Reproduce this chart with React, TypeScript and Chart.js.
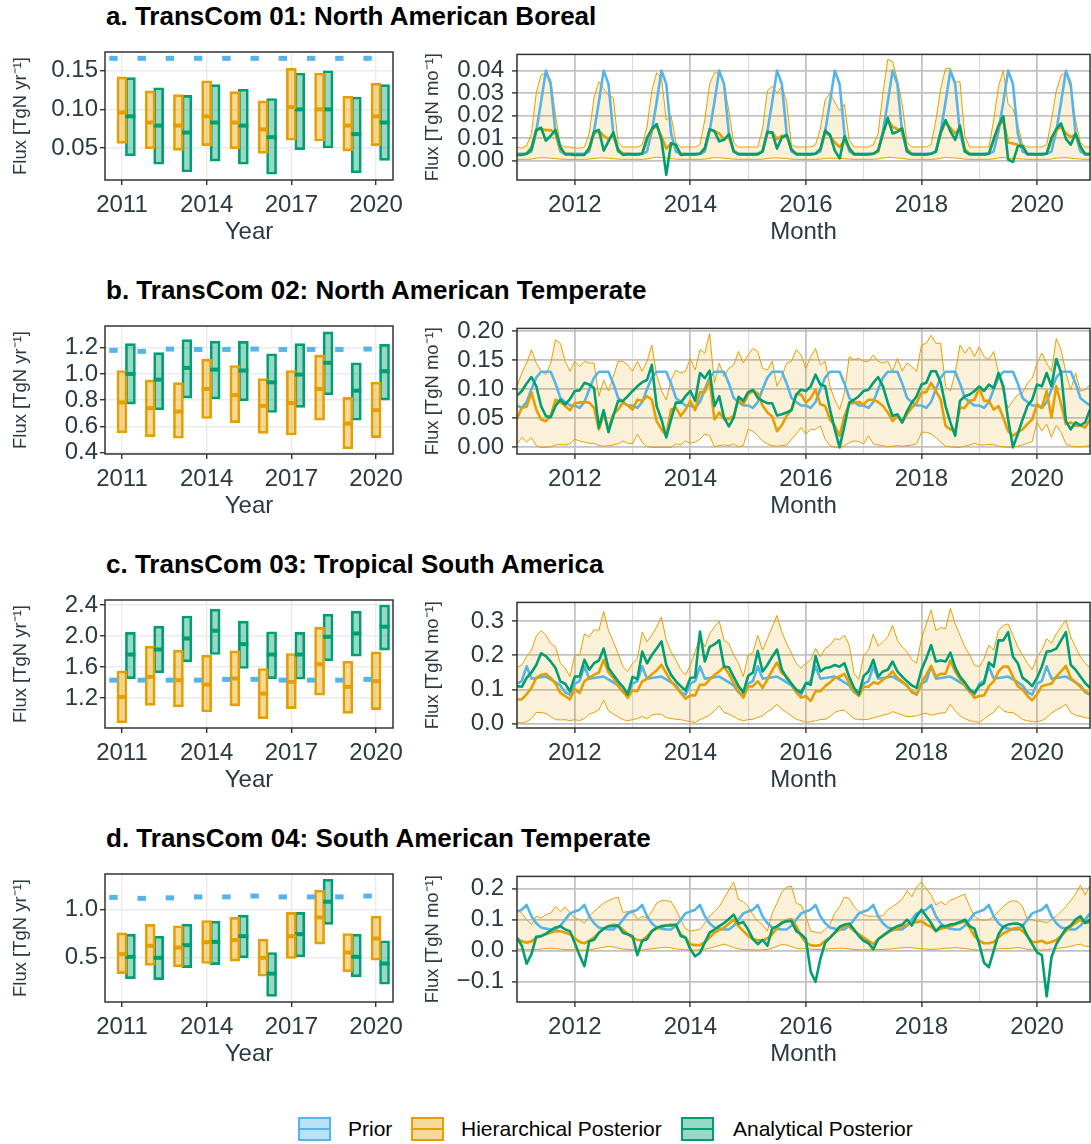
import React, { useEffect, useRef } from "react";
import { Chart, registerables } from "chart.js";

Chart.register(...registerables);

const FONT = "'Liberation Sans', Arial, Helvetica, sans-serif";
const TEXT = "#2B3A42";
const AXIS = "#333333";
const PRIOR = "#56B4E9";
const HIER = "#E69F00";
const ANAL = "#009E73";
const PRIOR_FILL = "rgba(86,180,233,0.4)";
const HIER_FILL = "rgba(230,159,0,0.4)";
const ANAL_FILL = "rgba(0,158,115,0.4)";
const BAND = "rgba(230,159,0,0.15)";

Chart.defaults.font.family = FONT;
Chart.defaults.color = TEXT;

// ---- categories and tick labels ----
const years = [2011, 2012, 2013, 2014, 2015, 2016, 2017, 2018, 2019, 2020];
const monthOffsets = [0, 1, 2, 3, 4, 5, 6, 7, 8, 9, 10, 11];
const annualXTicks = [2011, 2014, 2017, 2020];
const monthlyXTicks = [2011, 2012, 2013, 2014, 2015, 2016, 2017, 2018, 2019, 2020];
const panelTitles = [
  "a. TransCom 01: North American Boreal",
  "b. TransCom 02: North American Temperate",
  "c. TransCom 03: Tropical South America",
  "d. TransCom 04: South American Temperate",
];
const legendLabels = ["Prior", "Hierarchical Posterior", "Analytical Posterior"];

const yTicksAnnualA = [0.05, 0.1, 0.15];
const yTicksAnnualB = [0.4, 0.6, 0.8, 1.0, 1.2];
const yTicksAnnualC = [1.2, 1.6, 2.0, 2.4];
const yTicksAnnualD = [0.5, 1.0];
const yTicksMonthlyA = [0, 0.01, 0.02, 0.03, 0.04];
const yTicksMonthlyB = [0, 0.05, 0.1, 0.15, 0.2];
const yTicksMonthlyC = [0, 0.1, 0.2, 0.3];
const yTicksMonthlyD = [-0.1, 0, 0.1, 0.2];

// ---- annual values (TgN / yr) ----
const annualPriorA = [0.166, 0.166, 0.166, 0.166, 0.166, 0.166, 0.166, 0.166, 0.166, 0.166];
const annualHierMeanA = [0.096, 0.083, 0.079, 0.091, 0.083, 0.074, 0.103, 0.1, 0.079, 0.091];
const annualHierLoA = [0.056, 0.049, 0.047, 0.053, 0.049, 0.043, 0.06, 0.059, 0.046, 0.053];
const annualHierHiA = [0.142, 0.124, 0.119, 0.137, 0.123, 0.111, 0.153, 0.147, 0.117, 0.134];
const annualAnalMeanA = [0.091, 0.079, 0.07, 0.083, 0.079, 0.064, 0.1, 0.1, 0.068, 0.083];
const annualAnalLoA = [0.04, 0.029, 0.019, 0.033, 0.029, 0.016, 0.048, 0.05, 0.018, 0.034];
const annualAnalHiA = [0.141, 0.128, 0.118, 0.132, 0.126, 0.114, 0.147, 0.15, 0.116, 0.132];

const annualPriorB = [1.18, 1.172, 1.19, 1.187, 1.187, 1.19, 1.187, 1.187, 1.187, 1.19];
const annualHierMeanB = [0.782, 0.738, 0.713, 0.885, 0.838, 0.756, 0.777, 0.885, 0.621, 0.723];
const annualHierLoB = [0.549, 0.521, 0.508, 0.659, 0.628, 0.546, 0.533, 0.646, 0.428, 0.513];
const annualHierHiB = [1.026, 0.954, 0.933, 1.113, 1.064, 0.964, 1.026, 1.144, 0.821, 0.938];
const annualAnalMeanB = [1.0, 0.956, 1.046, 1.033, 1.026, 0.936, 0.995, 1.085, 0.872, 1.021];
const annualAnalLoB = [0.769, 0.726, 0.815, 0.808, 0.795, 0.705, 0.744, 0.841, 0.646, 0.8];
const annualAnalHiB = [1.231, 1.162, 1.262, 1.251, 1.249, 1.154, 1.231, 1.321, 1.085, 1.226];

const annualPriorC = [1.43, 1.43, 1.43, 1.43, 1.44, 1.44, 1.43, 1.43, 1.43, 1.44];
const annualHierMeanC = [1.213, 1.472, 1.429, 1.373, 1.451, 1.256, 1.407, 1.636, 1.343, 1.416];
const annualHierLoC = [0.88, 1.105, 1.084, 1.019, 1.097, 0.933, 1.062, 1.235, 1.0, 1.049];
const annualHierHiC = [1.55, 1.869, 1.817, 1.753, 1.809, 1.58, 1.774, 2.111, 1.675, 1.796];
const annualAnalMeanC = [1.761, 1.826, 1.968, 2.068, 1.895, 1.761, 1.761, 1.99, 2.033, 2.12];
const annualAnalLoC = [1.45, 1.524, 1.666, 1.761, 1.58, 1.45, 1.442, 1.679, 1.74, 1.817];
const annualAnalHiC = [2.046, 2.128, 2.258, 2.348, 2.193, 2.055, 2.046, 2.283, 2.322, 2.4];

const annualPriorD = [1.125, 1.115, 1.12, 1.13, 1.13, 1.139, 1.13, 1.13, 1.13, 1.139];
const annualHierMeanD = [0.535, 0.622, 0.604, 0.66, 0.681, 0.497, 0.722, 0.917, 0.552, 0.698];
const annualHierLoD = [0.333, 0.417, 0.403, 0.438, 0.462, 0.306, 0.49, 0.639, 0.351, 0.472];
const annualHierHiD = [0.757, 0.844, 0.83, 0.885, 0.917, 0.691, 0.969, 1.201, 0.75, 0.931];
const annualAnalMeanD = [0.507, 0.497, 0.628, 0.663, 0.722, 0.333, 0.743, 1.08, 0.507, 0.438];
const annualAnalLoD = [0.281, 0.271, 0.396, 0.427, 0.497, 0.097, 0.507, 0.844, 0.299, 0.222];
const annualAnalHiD = [0.743, 0.722, 0.847, 0.878, 0.941, 0.552, 0.969, 1.313, 0.743, 0.674];

// ---- monthly values (TgN / mo), Jan 2011 .. Dec 2020 ----
const monthlyPriorA = [
  0.003, 0.003, 0.003, 0.004, 0.013, 0.026, 0.04, 0.034, 0.012, 0.004, 0.003, 0.003,
  0.003, 0.003, 0.003, 0.004, 0.013, 0.026, 0.04, 0.034, 0.012, 0.004, 0.003, 0.003,
  0.003, 0.003, 0.003, 0.004, 0.013, 0.026, 0.04, 0.034, 0.012, 0.004, 0.003, 0.003,
  0.003, 0.003, 0.003, 0.004, 0.013, 0.026, 0.04, 0.034, 0.012, 0.004, 0.003, 0.003,
  0.003, 0.003, 0.003, 0.004, 0.013, 0.026, 0.04, 0.034, 0.012, 0.004, 0.003, 0.003,
  0.003, 0.003, 0.003, 0.004, 0.013, 0.026, 0.04, 0.034, 0.012, 0.004, 0.003, 0.003,
  0.003, 0.003, 0.003, 0.004, 0.013, 0.026, 0.04, 0.034, 0.012, 0.004, 0.003, 0.003,
  0.003, 0.003, 0.003, 0.004, 0.013, 0.026, 0.04, 0.034, 0.012, 0.004, 0.003, 0.003,
  0.003, 0.003, 0.003, 0.004, 0.013, 0.026, 0.04, 0.034, 0.012, 0.004, 0.003, 0.003,
  0.003, 0.003, 0.003, 0.004, 0.013, 0.026, 0.04, 0.034, 0.012, 0.004, 0.003, 0.003,
];
const monthlyHierA = [
  0.0027, 0.0027, 0.003, 0.006, 0.0135, 0.014, 0.0135, 0.0135, 0.012, 0.005, 0.003, 0.003,
  0.0027, 0.0027, 0.0028, 0.005, 0.012, 0.013, 0.011, 0.0095, 0.011, 0.005, 0.003, 0.003,
  0.0027, 0.0027, 0.003, 0.009, 0.0135, 0.0155, 0.0107, 0.0053, 0.0075, 0.0065, 0.003, 0.0028,
  0.0027, 0.0027, 0.003, 0.005, 0.0135, 0.013, 0.012, 0.0095, 0.0105, 0.004, 0.003, 0.0028,
  0.0027, 0.0027, 0.003, 0.004, 0.012, 0.0125, 0.0095, 0.011, 0.011, 0.005, 0.003, 0.0028,
  0.0027, 0.0027, 0.003, 0.005, 0.0125, 0.011, 0.008, 0.006, 0.009, 0.005, 0.003, 0.0028,
  0.0027, 0.0027, 0.003, 0.004, 0.012, 0.018, 0.015, 0.014, 0.013, 0.005, 0.003, 0.0028,
  0.0027, 0.0027, 0.003, 0.004, 0.012, 0.017, 0.0145, 0.012, 0.0145, 0.005, 0.003, 0.0028,
  0.0027, 0.0027, 0.003, 0.009, 0.015, 0.018, 0.008, 0.0075, 0.007, 0.006, 0.003, 0.0028,
  0.0027, 0.0027, 0.003, 0.009, 0.0135, 0.015, 0.012, 0.0105, 0.0115, 0.006, 0.003, 0.003,
];
const monthlyAnalA = [
  0.0025, 0.0025, 0.003, 0.005, 0.0136, 0.0146, 0.0088, 0.011, 0.0136, 0.006, 0.0027, 0.0027,
  0.0025, 0.0025, 0.0025, 0.0055, 0.0128, 0.0136, 0.0044, 0.0085, 0.0125, 0.0045, 0.0025, 0.0027,
  0.0027, 0.0027, 0.003, 0.01, 0.014, 0.0162, 0.0092, -0.0064, 0.0077, 0.007, 0.0025, 0.0027,
  0.0027, 0.0027, 0.003, 0.0055, 0.0139, 0.0131, 0.0085, 0.0092, 0.0117, 0.004, 0.0027, 0.0027,
  0.0027, 0.0027, 0.0027, 0.004, 0.0128, 0.0124, 0.0053, 0.0102, 0.0114, 0.0048, 0.0027, 0.0027,
  0.0027, 0.0027, 0.003, 0.005, 0.0133, 0.0114, 0.0044, 0.0009, 0.0107, 0.0055, 0.0027, 0.0027,
  0.0027, 0.0027, 0.003, 0.0045, 0.012, 0.019, 0.012, 0.0128, 0.0143, 0.004, 0.0027, 0.0027,
  0.0027, 0.0027, 0.003, 0.004, 0.0126, 0.018, 0.013, 0.0092, 0.0155, 0.004, 0.0027, 0.0027,
  0.0027, 0.0027, 0.003, 0.0095, 0.0155, 0.0197, 0.0004, -0.0006, 0.0063, 0.0065, 0.0027, 0.0027,
  0.0027, 0.0027, 0.003, 0.01, 0.014, 0.0165, 0.0096, 0.007, 0.012, 0.0063, 0.0027, 0.0027,
];
const monthlyHiA = [
  0.006, 0.0055, 0.0065, 0.012, 0.03, 0.038, 0.039, 0.036, 0.02, 0.007, 0.006, 0.006,
  0.0055, 0.0055, 0.006, 0.012, 0.028, 0.035, 0.032, 0.029, 0.028, 0.008, 0.006, 0.006,
  0.006, 0.006, 0.007, 0.015, 0.031, 0.039, 0.037, 0.018, 0.02, 0.008, 0.006, 0.006,
  0.006, 0.006, 0.007, 0.018, 0.034, 0.039, 0.039, 0.034, 0.022, 0.008, 0.006, 0.006,
  0.006, 0.006, 0.006, 0.014, 0.031, 0.033, 0.03, 0.033, 0.026, 0.007, 0.006, 0.006,
  0.006, 0.006, 0.007, 0.014, 0.027, 0.03, 0.026, 0.022, 0.025, 0.009, 0.006, 0.006,
  0.006, 0.006, 0.007, 0.012, 0.03, 0.045, 0.044, 0.036, 0.025, 0.008, 0.006, 0.006,
  0.006, 0.006, 0.007, 0.018, 0.032, 0.041, 0.041, 0.035, 0.035, 0.011, 0.006, 0.006,
  0.006, 0.006, 0.006, 0.018, 0.033, 0.04, 0.025, 0.023, 0.016, 0.007, 0.006, 0.006,
  0.006, 0.006, 0.007, 0.018, 0.031, 0.038, 0.039, 0.032, 0.018, 0.008, 0.006, 0.006,
];
const monthlyLoA = [
  0.0005, 0.0005, 0.0005, 0.0006, 0.001, 0.0012, 0.0012, 0.001, 0.0008, 0.0006, 0.0005, 0.0005,
  0.0005, 0.0005, 0.0005, 0.0006, 0.0009, 0.0011, 0.0011, 0.001, 0.0008, 0.0006, 0.0005, 0.0005,
  0.0005, 0.0005, 0.0005, 0.0007, 0.0011, 0.0014, 0.0013, 0.001, 0.0008, 0.0006, 0.0005, 0.0005,
  0.0005, 0.0005, 0.0005, 0.0006, 0.001, 0.0012, 0.0012, 0.001, 0.0008, 0.0006, 0.0005, 0.0005,
  0.0005, 0.0005, 0.0005, 0.0006, 0.0009, 0.0011, 0.0011, 0.001, 0.0008, 0.0006, 0.0005, 0.0005,
  0.0005, 0.0005, 0.0005, 0.0006, 0.0009, 0.001, 0.001, 0.0009, 0.0008, 0.0006, 0.0005, 0.0005,
  0.0005, 0.0005, 0.0005, 0.0007, 0.0011, 0.0014, 0.0013, 0.0011, 0.0009, 0.0006, 0.0005, 0.0005,
  0.0005, 0.0005, 0.0005, 0.0006, 0.001, 0.0013, 0.0012, 0.0011, 0.0009, 0.0006, 0.0005, 0.0005,
  0.0005, 0.0005, 0.0005, 0.0007, 0.0011, 0.0014, 0.001, 0.0009, 0.0008, 0.0006, 0.0005, 0.0005,
  0.0005, 0.0005, 0.0005, 0.0006, 0.001, 0.0012, 0.0012, 0.001, 0.0008, 0.0006, 0.0005, 0.0005,
];

const monthlyPriorB = [
  0.072, 0.068, 0.078, 0.1, 0.12, 0.13, 0.13, 0.13, 0.11, 0.085, 0.078, 0.072,
  0.072, 0.068, 0.078, 0.1, 0.12, 0.13, 0.13, 0.13, 0.11, 0.085, 0.078, 0.072,
  0.072, 0.068, 0.078, 0.1, 0.12, 0.13, 0.13, 0.13, 0.11, 0.085, 0.078, 0.072,
  0.072, 0.068, 0.078, 0.1, 0.12, 0.13, 0.13, 0.13, 0.11, 0.085, 0.078, 0.072,
  0.072, 0.068, 0.078, 0.1, 0.12, 0.13, 0.13, 0.13, 0.11, 0.085, 0.078, 0.072,
  0.072, 0.068, 0.078, 0.1, 0.12, 0.13, 0.13, 0.13, 0.11, 0.085, 0.078, 0.072,
  0.072, 0.068, 0.078, 0.1, 0.12, 0.13, 0.13, 0.13, 0.11, 0.085, 0.078, 0.072,
  0.072, 0.068, 0.078, 0.1, 0.12, 0.13, 0.13, 0.13, 0.11, 0.085, 0.078, 0.072,
  0.072, 0.068, 0.078, 0.1, 0.12, 0.13, 0.13, 0.13, 0.11, 0.085, 0.078, 0.072,
  0.072, 0.068, 0.078, 0.1, 0.12, 0.13, 0.13, 0.13, 0.11, 0.085, 0.078, 0.072,
];
const monthlyHierB = [
  0.049, 0.068, 0.07, 0.094, 0.065, 0.048, 0.045, 0.054, 0.082, 0.078, 0.071, 0.064,
  0.076, 0.077, 0.078, 0.077, 0.068, 0.031, 0.057, 0.031, 0.057, 0.065, 0.077, 0.072,
  0.065, 0.082, 0.08, 0.088, 0.082, 0.045, 0.031, 0.02, 0.065, 0.068, 0.054, 0.065,
  0.08, 0.064, 0.095, 0.095, 0.116, 0.048, 0.06, 0.049, 0.049, 0.054, 0.082, 0.074,
  0.091, 0.097, 0.093, 0.072, 0.06, 0.053, 0.028, 0.038, 0.054, 0.065, 0.091, 0.091,
  0.077, 0.085, 0.099, 0.074, 0.071, 0.048, 0.037, 0.02, 0.054, 0.074, 0.077, 0.078,
  0.074, 0.082, 0.082, 0.078, 0.071, 0.06, 0.045, 0.054, 0.043, 0.057, 0.068, 0.077,
  0.094, 0.095, 0.111, 0.097, 0.082, 0.037, 0.031, 0.028, 0.068, 0.068, 0.08, 0.082,
  0.102, 0.08, 0.08, 0.065, 0.071, 0.051, 0.028, 0.02, 0.026, 0.031, 0.04, 0.048,
  0.074, 0.068, 0.097, 0.051, 0.105, 0.074, 0.04, 0.043, 0.037, 0.038, 0.034, 0.048,
];
const monthlyAnalB = [
  0.089, 0.097, 0.11, 0.121, 0.105, 0.071, 0.054, 0.052, 0.071, 0.082, 0.074, 0.083,
  0.097, 0.098, 0.111, 0.108, 0.102, 0.034, 0.064, 0.026, 0.054, 0.08, 0.08, 0.088,
  0.097, 0.105, 0.112, 0.116, 0.142, 0.071, 0.048, 0.017, 0.048, 0.077, 0.077, 0.088,
  0.097, 0.08, 0.128, 0.119, 0.132, 0.071, 0.088, 0.051, 0.036, 0.051, 0.087, 0.08,
  0.095, 0.099, 0.085, 0.08, 0.076, 0.076, 0.055, 0.057, 0.06, 0.064, 0.091, 0.099,
  0.097, 0.105, 0.125, 0.108, 0.105, 0.065, 0.031, 0.0, 0.037, 0.077, 0.082, 0.088,
  0.097, 0.099, 0.111, 0.121, 0.105, 0.077, 0.054, 0.057, 0.043, 0.062, 0.077, 0.088,
  0.108, 0.111, 0.131, 0.131, 0.111, 0.071, 0.043, 0.02, 0.08, 0.088, 0.091, 0.097,
  0.105, 0.097, 0.108, 0.102, 0.128, 0.105, 0.048, 0.0, 0.023, 0.048, 0.071, 0.082,
  0.108, 0.105, 0.128, 0.105, 0.152, 0.128, 0.045, 0.031, 0.043, 0.038, 0.043, 0.065,
];
const monthlyHiB = [
  0.105, 0.128, 0.145, 0.168, 0.145, 0.131, 0.125, 0.145, 0.185, 0.179, 0.148, 0.131,
  0.148, 0.139, 0.148, 0.145, 0.145, 0.088, 0.116, 0.097, 0.122, 0.148, 0.148, 0.142,
  0.131, 0.148, 0.131, 0.148, 0.176, 0.125, 0.097, 0.082, 0.116, 0.133, 0.128, 0.131,
  0.153, 0.133, 0.168, 0.162, 0.196, 0.111, 0.145, 0.122, 0.136, 0.142, 0.165, 0.145,
  0.159, 0.17, 0.165, 0.136, 0.133, 0.148, 0.105, 0.122, 0.145, 0.148, 0.168, 0.159,
  0.136, 0.156, 0.17, 0.142, 0.148, 0.105, 0.082, 0.065, 0.094, 0.156, 0.151, 0.153,
  0.148, 0.148, 0.159, 0.148, 0.145, 0.148, 0.131, 0.153, 0.131, 0.145, 0.139, 0.131,
  0.176, 0.179, 0.193, 0.179, 0.179, 0.105, 0.097, 0.128, 0.176, 0.162, 0.173, 0.156,
  0.173, 0.156, 0.151, 0.165, 0.128, 0.094, 0.068, 0.08, 0.091, 0.094, 0.111, 0.119,
  0.145, 0.162, 0.145, 0.131, 0.187, 0.168, 0.128, 0.099, 0.128, 0.097, 0.099, 0.108,
];
const monthlyLoB = [
  0.006, 0.017, 0.009, 0.017, 0.003, 0.0, 0.0, 0.001, 0.004, 0.005, 0.004, 0.006,
  0.014, 0.011, 0.009, 0.007, 0.007, 0.003, 0.002, 0.003, 0.004, 0.006, 0.011, 0.007,
  0.006, 0.023, 0.009, 0.001, 0.0, 0.0, 0.0, 0.0, 0.0, 0.006, 0.004, 0.011,
  0.007, 0.009, 0.014, 0.023, 0.02, 0.001, 0.003, 0.004, 0.003, 0.006, 0.001, 0.003,
  0.031, 0.028, 0.02, 0.011, 0.006, 0.003, 0.002, 0.003, 0.004, 0.014, 0.023, 0.034,
  0.023, 0.031, 0.031, 0.037, 0.014, 0.003, 0.0, 0.0, 0.003, 0.008, 0.011, 0.01,
  0.006, 0.02, 0.006, 0.004, 0.003, 0.001, 0.002, 0.003, 0.002, 0.003, 0.004, 0.006,
  0.026, 0.026, 0.023, 0.017, 0.009, 0.002, 0.001, 0.0, 0.0, 0.002, 0.004, 0.007,
  0.004, 0.004, 0.005, 0.005, 0.002, 0.001, 0.0, 0.001, 0.002, 0.004, 0.007, 0.01,
  0.043, 0.028, 0.04, 0.017, 0.038, 0.026, 0.006, 0.002, 0.001, 0.001, 0.002, 0.003,
];

const monthlyPriorC = [
  0.117, 0.125, 0.168, 0.132, 0.134, 0.136, 0.138, 0.13, 0.121, 0.112, 0.092, 0.085,
  0.117, 0.125, 0.168, 0.132, 0.134, 0.136, 0.138, 0.13, 0.121, 0.112, 0.092, 0.085,
  0.117, 0.125, 0.168, 0.132, 0.134, 0.136, 0.138, 0.13, 0.121, 0.112, 0.092, 0.085,
  0.117, 0.125, 0.168, 0.132, 0.134, 0.136, 0.138, 0.13, 0.121, 0.112, 0.092, 0.085,
  0.117, 0.125, 0.168, 0.132, 0.134, 0.136, 0.138, 0.13, 0.121, 0.112, 0.092, 0.085,
  0.117, 0.125, 0.168, 0.132, 0.134, 0.136, 0.138, 0.13, 0.121, 0.112, 0.092, 0.085,
  0.117, 0.125, 0.168, 0.132, 0.134, 0.136, 0.138, 0.13, 0.121, 0.112, 0.092, 0.085,
  0.117, 0.125, 0.168, 0.132, 0.134, 0.136, 0.138, 0.13, 0.121, 0.112, 0.092, 0.085,
  0.117, 0.125, 0.168, 0.132, 0.134, 0.136, 0.138, 0.13, 0.121, 0.112, 0.092, 0.085,
  0.117, 0.125, 0.168, 0.132, 0.134, 0.136, 0.138, 0.13, 0.121, 0.112, 0.092, 0.085,
];
const monthlyHierC = [
  0.071, 0.071, 0.086, 0.105, 0.134, 0.143, 0.146, 0.134, 0.117, 0.09, 0.081, 0.071,
  0.102, 0.09, 0.124, 0.134, 0.143, 0.15, 0.187, 0.15, 0.134, 0.11, 0.095, 0.076,
  0.098, 0.095, 0.124, 0.131, 0.145, 0.156, 0.172, 0.148, 0.124, 0.108, 0.09, 0.073,
  0.083, 0.083, 0.114, 0.114, 0.129, 0.143, 0.153, 0.167, 0.146, 0.119, 0.095, 0.076,
  0.108, 0.11, 0.124, 0.105, 0.129, 0.156, 0.179, 0.148, 0.138, 0.117, 0.092, 0.076,
  0.081, 0.066, 0.095, 0.095, 0.11, 0.121, 0.134, 0.138, 0.146, 0.119, 0.095, 0.081,
  0.108, 0.108, 0.121, 0.117, 0.129, 0.138, 0.153, 0.134, 0.124, 0.11, 0.095, 0.086,
  0.119, 0.143, 0.169, 0.138, 0.146, 0.146, 0.185, 0.153, 0.131, 0.112, 0.095, 0.076,
  0.081, 0.083, 0.11, 0.124, 0.153, 0.167, 0.167, 0.138, 0.11, 0.1, 0.081, 0.069,
  0.086, 0.11, 0.114, 0.117, 0.138, 0.153, 0.169, 0.134, 0.121, 0.108, 0.095, 0.086,
];
const monthlyAnalC = [
  0.11, 0.108, 0.134, 0.15, 0.172, 0.206, 0.198, 0.182, 0.163, 0.124, 0.117, 0.095,
  0.138, 0.138, 0.187, 0.158, 0.177, 0.185, 0.22, 0.163, 0.143, 0.124, 0.108, 0.086,
  0.137, 0.131, 0.211, 0.177, 0.201, 0.22, 0.241, 0.172, 0.143, 0.124, 0.11, 0.097,
  0.134, 0.136, 0.27, 0.182, 0.225, 0.232, 0.244, 0.167, 0.165, 0.137, 0.11, 0.092,
  0.14, 0.15, 0.213, 0.153, 0.172, 0.196, 0.217, 0.158, 0.134, 0.117, 0.1, 0.092,
  0.119, 0.114, 0.198, 0.153, 0.163, 0.165, 0.172, 0.167, 0.177, 0.137, 0.105, 0.086,
  0.14, 0.153, 0.187, 0.138, 0.153, 0.158, 0.182, 0.153, 0.138, 0.124, 0.112, 0.105,
  0.158, 0.191, 0.23, 0.182, 0.185, 0.182, 0.208, 0.165, 0.138, 0.121, 0.1, 0.09,
  0.11, 0.119, 0.179, 0.167, 0.244, 0.244, 0.268, 0.196, 0.177, 0.134, 0.124, 0.11,
  0.134, 0.167, 0.211, 0.213, 0.22, 0.244, 0.268, 0.172, 0.158, 0.138, 0.119, 0.105,
];
const monthlyHiC = [
  0.165, 0.172, 0.196, 0.215, 0.256, 0.273, 0.259, 0.235, 0.225, 0.177, 0.163, 0.138,
  0.201, 0.201, 0.263, 0.254, 0.275, 0.273, 0.329, 0.273, 0.24, 0.206, 0.167, 0.153,
  0.177, 0.191, 0.268, 0.24, 0.259, 0.283, 0.312, 0.244, 0.211, 0.187, 0.158, 0.143,
  0.172, 0.211, 0.254, 0.225, 0.263, 0.283, 0.3, 0.244, 0.235, 0.201, 0.177, 0.138,
  0.201, 0.208, 0.259, 0.215, 0.249, 0.283, 0.317, 0.268, 0.235, 0.206, 0.177, 0.163,
  0.177, 0.187, 0.22, 0.196, 0.22, 0.23, 0.249, 0.246, 0.259, 0.23, 0.148, 0.129,
  0.201, 0.215, 0.262, 0.227, 0.24, 0.254, 0.288, 0.244, 0.225, 0.211, 0.187, 0.177,
  0.249, 0.292, 0.333, 0.273, 0.281, 0.278, 0.338, 0.292, 0.259, 0.225, 0.201, 0.172,
  0.167, 0.191, 0.23, 0.215, 0.273, 0.288, 0.292, 0.259, 0.225, 0.201, 0.177, 0.158,
  0.196, 0.215, 0.249, 0.235, 0.263, 0.283, 0.304, 0.254, 0.225, 0.196, 0.177, 0.163,
];
const monthlyLoC = [
  0.004, 0.002, 0.006, 0.015, 0.033, 0.033, 0.03, 0.021, 0.012, 0.011, 0.012, 0.009,
  0.012, 0.009, 0.015, 0.028, 0.033, 0.04, 0.069, 0.038, 0.028, 0.021, 0.012, 0.009,
  0.012, 0.015, 0.021, 0.015, 0.025, 0.028, 0.028, 0.018, 0.015, 0.013, 0.012, 0.009,
  0.006, 0.004, 0.012, 0.018, 0.025, 0.038, 0.052, 0.033, 0.028, 0.021, 0.013, 0.009,
  0.012, 0.013, 0.018, 0.023, 0.035, 0.044, 0.057, 0.042, 0.033, 0.023, 0.013, 0.009,
  0.004, 0.006, 0.009, 0.012, 0.013, 0.021, 0.033, 0.038, 0.04, 0.028, 0.015, 0.012,
  0.012, 0.013, 0.017, 0.021, 0.025, 0.028, 0.035, 0.031, 0.025, 0.021, 0.021, 0.023,
  0.028, 0.031, 0.025, 0.028, 0.031, 0.033, 0.057, 0.038, 0.023, 0.015, 0.009, 0.006,
  0.004, 0.013, 0.025, 0.033, 0.052, 0.038, 0.033, 0.033, 0.023, 0.012, 0.009, 0.006,
  0.006, 0.009, 0.018, 0.031, 0.04, 0.047, 0.057, 0.033, 0.025, 0.021, 0.018, 0.015,
];

const monthlyPriorD = [
  0.126, 0.132, 0.147, 0.111, 0.088, 0.075, 0.071, 0.068, 0.068, 0.08, 0.1, 0.12,
  0.126, 0.132, 0.147, 0.111, 0.088, 0.075, 0.071, 0.068, 0.068, 0.08, 0.1, 0.12,
  0.126, 0.132, 0.147, 0.111, 0.088, 0.075, 0.071, 0.068, 0.068, 0.08, 0.1, 0.12,
  0.126, 0.132, 0.147, 0.111, 0.088, 0.075, 0.071, 0.068, 0.068, 0.08, 0.1, 0.12,
  0.126, 0.132, 0.147, 0.111, 0.088, 0.075, 0.071, 0.068, 0.068, 0.08, 0.1, 0.12,
  0.126, 0.132, 0.147, 0.111, 0.088, 0.075, 0.071, 0.068, 0.068, 0.08, 0.1, 0.12,
  0.126, 0.132, 0.147, 0.111, 0.088, 0.075, 0.071, 0.068, 0.068, 0.08, 0.1, 0.12,
  0.126, 0.132, 0.147, 0.111, 0.088, 0.075, 0.071, 0.068, 0.068, 0.08, 0.1, 0.12,
  0.126, 0.132, 0.147, 0.111, 0.088, 0.075, 0.071, 0.068, 0.068, 0.08, 0.1, 0.12,
  0.126, 0.132, 0.147, 0.111, 0.088, 0.075, 0.071, 0.068, 0.068, 0.08, 0.1, 0.12,
];
const monthlyHierD = [
  0.039, 0.03, 0.026, 0.03, 0.042, 0.047, 0.053, 0.058, 0.063, 0.063, 0.058, 0.053,
  0.04, 0.028, 0.024, 0.032, 0.042, 0.058, 0.071, 0.078, 0.084, 0.081, 0.068, 0.053,
  0.042, 0.035, 0.032, 0.047, 0.063, 0.071, 0.077, 0.081, 0.084, 0.079, 0.053, 0.042,
  0.021, 0.018, 0.018, 0.028, 0.042, 0.058, 0.066, 0.074, 0.087, 0.1, 0.079, 0.063,
  0.048, 0.037, 0.034, 0.032, 0.04, 0.053, 0.072, 0.092, 0.098, 0.102, 0.079, 0.047,
  0.026, 0.018, 0.016, 0.018, 0.032, 0.042, 0.058, 0.068, 0.079, 0.077, 0.063, 0.053,
  0.042, 0.032, 0.021, 0.037, 0.047, 0.058, 0.066, 0.071, 0.077, 0.084, 0.089, 0.092,
  0.095, 0.084, 0.077, 0.063, 0.071, 0.074, 0.079, 0.084, 0.089, 0.095, 0.074, 0.047,
  0.032, 0.024, 0.024, 0.028, 0.042, 0.056, 0.063, 0.071, 0.074, 0.063, 0.047, 0.028,
  0.028, 0.032, 0.024, 0.028, 0.035, 0.047, 0.063, 0.077, 0.089, 0.1, 0.089, 0.092,
];
const monthlyAnalD = [
  0.042, 0.016, -0.042, -0.011, 0.045, 0.047, 0.055, 0.065, 0.075, 0.079, 0.068, 0.063,
  0.025, -0.015, -0.05, 0.03, 0.035, 0.058, 0.071, 0.079, 0.079, 0.081, 0.058, 0.053,
  0.047, -0.014, 0.032, 0.037, 0.063, 0.074, 0.079, 0.081, 0.081, 0.084, 0.047, 0.042,
  0.005, -0.018, -0.007, 0.026, 0.058, 0.068, 0.079, 0.089, 0.102, 0.116, 0.087, 0.092,
  0.068, 0.037, 0.021, 0.035, 0.016, 0.071, 0.079, 0.089, 0.095, 0.095, 0.063, 0.053,
  0.037, -0.068, -0.1, -0.026, 0.026, 0.042, 0.058, 0.077, 0.084, 0.087, 0.068, 0.047,
  0.032, 0.024, 0.005, 0.037, 0.049, 0.06, 0.071, 0.079, 0.084, 0.1, 0.081, 0.111,
  0.132, 0.111, 0.089, 0.063, 0.079, 0.079, 0.084, 0.087, 0.092, 0.1, 0.079, 0.071,
  0.021, -0.039, -0.053, 0.0, 0.053, 0.077, 0.084, 0.087, 0.087, 0.081, 0.047, 0.021,
  -0.005, -0.014, -0.147, -0.021, 0.021, 0.047, 0.071, 0.081, 0.1, 0.111, 0.089, 0.1,
];
const monthlyHiD = [
  0.132, 0.12, 0.1, 0.084, 0.111, 0.105, 0.116, 0.121, 0.142, 0.126, 0.14, 0.123,
  0.105, 0.1, 0.089, 0.111, 0.126, 0.14, 0.153, 0.161, 0.168, 0.172, 0.123, 0.126,
  0.129, 0.1, 0.111, 0.105, 0.126, 0.153, 0.161, 0.161, 0.158, 0.132, 0.1, 0.071,
  0.063, 0.066, 0.068, 0.089, 0.111, 0.126, 0.142, 0.168, 0.195, 0.221, 0.165, 0.158,
  0.142, 0.116, 0.095, 0.084, 0.063, 0.121, 0.153, 0.189, 0.205, 0.207, 0.153, 0.147,
  0.111, 0.063, 0.06, 0.056, 0.068, 0.084, 0.121, 0.142, 0.172, 0.168, 0.142, 0.126,
  0.116, 0.111, 0.111, 0.111, 0.113, 0.132, 0.142, 0.153, 0.165, 0.193, 0.174, 0.205,
  0.221, 0.2, 0.179, 0.147, 0.158, 0.147, 0.163, 0.168, 0.176, 0.182, 0.142, 0.111,
  0.1, 0.098, 0.1, 0.111, 0.126, 0.142, 0.155, 0.161, 0.158, 0.142, 0.1, 0.1,
  0.095, 0.095, 0.089, 0.1, 0.111, 0.126, 0.142, 0.161, 0.182, 0.211, 0.179, 0.211,
];
const monthlyLoD = [
  0.005, 0.004, 0.003, 0.003, 0.004, 0.005, 0.007, 0.008, 0.007, 0.005, 0.004, 0.003,
  0.003, 0.002, 0.002, 0.003, 0.005, 0.008, 0.011, 0.014, 0.012, 0.008, 0.005, 0.004,
  0.003, 0.003, 0.002, 0.004, 0.006, 0.008, 0.01, 0.011, 0.009, 0.006, 0.004, 0.003,
  0.002, 0.002, 0.003, 0.005, 0.008, 0.012, 0.017, 0.021, 0.016, 0.01, 0.006, 0.004,
  0.003, 0.003, 0.002, 0.003, 0.004, 0.008, 0.014, 0.02, 0.018, 0.013, 0.008, 0.006,
  0.007, 0.005, 0.004, 0.004, 0.005, 0.006, 0.007, 0.008, 0.008, 0.006, 0.004, 0.003,
  0.003, 0.003, 0.003, 0.004, 0.004, 0.005, 0.006, 0.008, 0.009, 0.011, 0.009, 0.008,
  0.006, 0.005, 0.004, 0.005, 0.006, 0.008, 0.008, 0.01, 0.008, 0.007, 0.005, 0.003,
  0.002, 0.003, 0.004, 0.005, 0.006, 0.007, 0.007, 0.008, 0.01, 0.008, 0.004, 0.003,
  0.003, 0.002, 0.003, 0.005, 0.007, 0.009, 0.011, 0.014, 0.018, 0.021, 0.014, 0.014,
];

// ---- panel definitions (options the charts need) ----
const annualPanels = [
  { prior: annualPriorA, hierMean: annualHierMeanA, hierLo: annualHierLoA, hierHi: annualHierHiA, analMean: annualAnalMeanA, analLo: annualAnalLoA, analHi: annualAnalHiA, min: 0.0086, max: 0.1742, ticks: yTicksAnnualA, decimals: 2 },
  { prior: annualPriorB, hierMean: annualHierMeanB, hierLo: annualHierLoB, hierHi: annualHierHiB, analMean: annualAnalMeanB, analLo: annualAnalLoB, analHi: annualAnalHiB, min: 0.388, max: 1.366, ticks: yTicksAnnualB, decimals: 1 },
  { prior: annualPriorC, hierMean: annualHierMeanC, hierLo: annualHierLoC, hierHi: annualHierHiC, analMean: annualAnalMeanC, analLo: annualAnalLoC, analHi: annualAnalHiC, min: 0.812, max: 2.465, ticks: yTicksAnnualC, decimals: 1 },
  { prior: annualPriorD, hierMean: annualHierMeanD, hierLo: annualHierLoD, hierHi: annualHierHiD, analMean: annualAnalMeanD, analLo: annualAnalLoD, analHi: annualAnalHiD, min: 0.038, max: 1.368, ticks: yTicksAnnualD, decimals: 1 },
];
const monthlyPanels = [
  { prior: monthlyPriorA, hier: monthlyHierA, anal: monthlyAnalA, hi: monthlyHiA, lo: monthlyLoA, min: -0.0087, max: 0.0472, ticks: yTicksMonthlyA, decimals: 2 },
  { prior: monthlyPriorB, hier: monthlyHierB, anal: monthlyAnalB, hi: monthlyHiB, lo: monthlyLoB, min: -0.0114, max: 0.2046, ticks: yTicksMonthlyB, decimals: 2 },
  { prior: monthlyPriorC, hier: monthlyHierC, anal: monthlyAnalC, hi: monthlyHiC, lo: monthlyLoC, min: -0.0125, max: 0.355, ticks: yTicksMonthlyC, decimals: 1 },
  { prior: monthlyPriorD, hier: monthlyHierD, anal: monthlyAnalD, hi: monthlyHiD, lo: monthlyLoD, min: -0.165, max: 0.239, ticks: yTicksMonthlyD, decimals: 1 },
];

const monthX = years.flatMap((y) => monthOffsets.map((m) => y + m / 12));
const dodge = 0.3;

const fmt = (decimals: number) => (v: any) => {
  const n = Number(v);
  return (n < -1e-9 ? "\u2212" : "") + Math.abs(n).toFixed(decimals);
};

// panel border drawn on top of the data, like ggplot's panel.border
const framePlugin = {
  id: "frame",
  afterDatasetsDraw(chart: any) {
    const { ctx, chartArea } = chart;
    ctx.save();
    ctx.strokeStyle = AXIS;
    ctx.lineWidth = 1.5;
    ctx.strokeRect(chartArea.left, chartArea.top, chartArea.right - chartArea.left, chartArea.bottom - chartArea.top);
    ctx.restore();
  },
};

const PLOT_H = 128;
const PAD_TOP = 20;
const X_AXIS_H = 67;
const CANVAS_H = PAD_TOP + PLOT_H + X_AXIS_H;
const TICK_SIZE = 24;
const TITLE_SIZE = 24;
const YTITLE_SIZE = 18.5;

function annualConfig(p: any): any {
  const meanPoint = (color: string) => ({ pointStyle: "line", pointRadius: 5, pointBorderWidth: 4, pointBorderColor: color, pointBackgroundColor: color, showLine: false });
  return {
    type: "bar",
    data: {
      datasets: [
        { type: "scatter", data: years.map((y, i) => ({ x: y - dodge, y: p.prior[i] })), pointStyle: "line", pointRadius: 4.2, pointBorderWidth: 5, pointBorderColor: PRIOR, pointBackgroundColor: PRIOR, showLine: false },
        { type: "scatter", data: years.map((y, i) => ({ x: y, y: p.hierMean[i] })), ...meanPoint(HIER) },
        { type: "scatter", data: years.map((y, i) => ({ x: y + dodge, y: p.analMean[i] })), ...meanPoint(ANAL) },
        { type: "bar", data: years.map((y, i) => ({ x: y, y: [p.hierLo[i], p.hierHi[i]] })), backgroundColor: HIER_FILL, borderColor: HIER, borderWidth: 2, borderSkipped: false, barThickness: 10, grouped: false },
        { type: "bar", data: years.map((y, i) => ({ x: y + dodge, y: [p.analLo[i], p.analHi[i]] })), backgroundColor: ANAL_FILL, borderColor: ANAL, borderWidth: 2, borderSkipped: false, barThickness: 10, grouped: false },
      ],
    },
    options: {
      animation: false,
      responsive: false,
      events: [],
      layout: { padding: { top: PAD_TOP, right: 27, bottom: 0, left: 0 } },
      plugins: { legend: { display: false }, tooltip: { enabled: false } },
      scales: {
        x: {
          type: "linear",
          min: 2010.4,
          max: 2020.6,
          offset: false,
          afterBuildTicks: (axis: any) => { axis.ticks = annualXTicks.map((value) => ({ value })); },
          afterFit: (s: any) => { s.height = X_AXIS_H; },
          grid: { color: "#EBEBEB", lineWidth: 1.4, tickColor: AXIS, tickLength: 5, tickWidth: 1.4, offset: false },
          border: { display: false },
          ticks: { font: { size: TICK_SIZE }, color: TEXT, padding: 6, maxRotation: 0, autoSkip: false, callback: (v: any) => String(v) },
          title: { display: true, text: "Year", font: { size: TITLE_SIZE }, color: TEXT, padding: 0 },
        },
        y: {
          type: "linear",
          min: p.min,
          max: p.max,
          afterBuildTicks: (axis: any) => { axis.ticks = p.ticks.map((value: number) => ({ value })); },
          afterFit: (s: any) => { s.width = 105; },
          grid: { color: "#EBEBEB", lineWidth: 1.4, tickColor: AXIS, tickLength: 5, tickWidth: 1.4 },
          border: { display: false },
          ticks: { font: { size: TICK_SIZE }, color: TEXT, padding: 2, autoSkip: false, callback: fmt(p.decimals) },
          title: { display: true, text: "Flux [TgN yr\u207B\u00B9]", font: { size: YTITLE_SIZE }, color: TEXT, padding: { top: 10, bottom: 0 } },
        },
      },
    },
    plugins: [framePlugin],
  };
}

function monthlyConfig(p: any): any {
  const pts = (arr: number[]) => arr.map((v, i) => ({ x: monthX[i], y: v }));
  const even = (c: any) => c.tick && Math.round(c.tick.value) % 2 === 0;
  return {
    type: "line",
    data: {
      datasets: [
        { data: pts(p.anal), borderColor: ANAL, borderWidth: 2.6 },
        { data: pts(p.hier), borderColor: HIER, borderWidth: 2.6 },
        { data: pts(p.prior), borderColor: PRIOR, borderWidth: 2.6 },
        { data: pts(p.hi), borderColor: HIER, borderWidth: 1, fill: 4, backgroundColor: BAND },
        { data: pts(p.lo), borderColor: HIER, borderWidth: 1 },
      ],
    },
    options: {
      animation: false,
      responsive: false,
      events: [],
      elements: { point: { radius: 0 }, line: { tension: 0, borderJoinStyle: "round", fill: false } },
      layout: { padding: { top: PAD_TOP, right: 1, bottom: 0, left: 0 } },
      plugins: { legend: { display: false }, tooltip: { enabled: false }, filler: { drawTime: "beforeDatasetsDraw" } },
      scales: {
        x: {
          type: "linear",
          min: years[0],
          max: monthX[monthX.length - 1],
          afterBuildTicks: (axis: any) => { axis.ticks = monthlyXTicks.map((value) => ({ value })); },
          afterFit: (s: any) => { s.height = X_AXIS_H; },
          grid: {
            color: (c: any) => (even(c) ? "#C2C2C2" : "#DCDCDC"),
            lineWidth: (c: any) => (even(c) ? 1.8 : 1.1),
            tickColor: (c: any) => (even(c) ? AXIS : "rgba(0,0,0,0)"),
            tickLength: 5,
            tickWidth: 1.4,
          },
          border: { display: false },
          ticks: { font: { size: TICK_SIZE }, color: TEXT, padding: 6, maxRotation: 0, autoSkip: false, callback: (v: any) => (Math.round(v) % 2 === 0 ? String(v) : "") },
          title: { display: true, text: "Month", font: { size: TITLE_SIZE }, color: TEXT, padding: 0 },
        },
        y: {
          type: "linear",
          min: p.min,
          max: p.max,
          afterBuildTicks: (axis: any) => { axis.ticks = p.ticks.map((value: number) => ({ value })); },
          afterFit: (s: any) => { s.width = 102; },
          grid: { color: "#C2C2C2", lineWidth: 1.8, tickColor: AXIS, tickLength: 5, tickWidth: 1.4 },
          border: { display: false },
          ticks: { font: { size: TICK_SIZE }, color: TEXT, padding: 8, autoSkip: false, callback: fmt(p.decimals) },
          title: { display: true, text: "Flux [TgN mo\u207B\u00B9]", font: { size: YTITLE_SIZE }, color: TEXT, padding: { top: 7, bottom: 0 } },
        },
      },
    },
    plugins: [framePlugin],
  };
}

function ChartCanvas({ make, left, top, width, height }: { make: () => any; left: number; top: number; width: number; height: number }) {
  const canvasRef = useRef<HTMLCanvasElement | null>(null);
  useEffect(() => {
    if (!canvasRef.current) return;
    const chart = new Chart(canvasRef.current, make());
    return () => chart.destroy();
  }, [make]);
  return <canvas ref={canvasRef} width={width} height={height} style={{ position: "absolute", left, top, width, height }} />;
}

const plotTops = [52, 326, 600, 874];
const legendItems = [
  { label: legendLabels[0], color: PRIOR, fill: PRIOR_FILL, keyLeft: 298, textLeft: 348 },
  { label: legendLabels[1], color: HIER, fill: HIER_FILL, keyLeft: 411, textLeft: 461 },
  { label: legendLabels[2], color: ANAL, fill: ANAL_FILL, keyLeft: 681, textLeft: 733 },
];

export default function App() {
  return (
    <div style={{ position: "absolute", left: 0, top: 0, width: 1091, height: 1144, background: "#ffffff", overflow: "hidden", fontFamily: FONT }}>
      {plotTops.map((top, r) => (
        <React.Fragment key={r}>
          <div style={{ position: "absolute", left: 106, top: top - 50, fontSize: 26, lineHeight: "29px", fontWeight: "bold", color: "#000", whiteSpace: "nowrap" }}>
            {panelTitles[r]}
          </div>
          <ChartCanvas make={() => annualConfig(annualPanels[r])} left={0} top={top - PAD_TOP} width={420} height={CANVAS_H} />
          <ChartCanvas make={() => monthlyConfig(monthlyPanels[r])} left={415} top={top - PAD_TOP} width={676} height={CANVAS_H} />
        </React.Fragment>
      ))}
      {legendItems.map((it) => (
        <React.Fragment key={it.label}>
          <div style={{ position: "absolute", left: it.keyLeft, top: 1117, width: 33, height: 24, boxSizing: "border-box", border: `2px solid ${it.color}`, background: it.fill }}>
            <div style={{ position: "absolute", left: 0, right: 0, top: 9, height: 2, background: it.color }} />
          </div>
          <div style={{ position: "absolute", left: it.textLeft, top: 1116, fontSize: 21, lineHeight: "26px", color: "#000", whiteSpace: "nowrap" }}>
            {it.label}
          </div>
        </React.Fragment>
      ))}
    </div>
  );
}
